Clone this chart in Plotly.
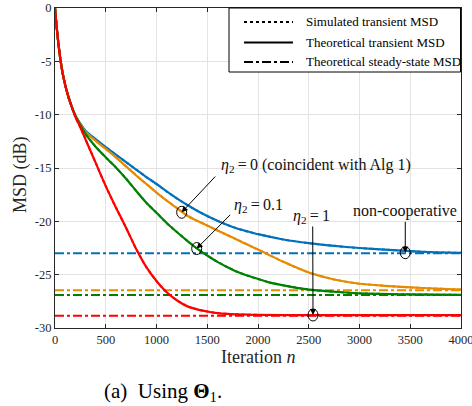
import plotly.graph_objects as go

# ---------------- data ----------------
n_noncoop = [0, 10, 25, 50, 75, 100, 125, 150, 175, 200, 250, 300, 400, 500, 600, 700, 800, 900, 1000, 1100, 1200, 1300, 1400, 1500, 1600, 1700, 1800, 1900, 2000, 2250, 2500, 2750, 3000, 3250, 3500, 3750, 4000]
msd_noncoop = [0, -1.1, -2.6, -4.6, -6.1, -7.2, -8.1, -8.85, -9.5, -10.05, -10.85, -11.5, -12.3, -13.05, -13.75, -14.45, -15.15, -15.85, -16.5, -17.2, -17.85, -18.45, -19.0, -19.5, -19.95, -20.35, -20.7, -20.95, -21.2, -21.7, -22.05, -22.3, -22.5, -22.65, -22.8, -22.9, -22.95]

n_eta0 = [0, 10, 25, 50, 75, 100, 125, 150, 175, 200, 250, 300, 400, 500, 600, 700, 800, 900, 1000, 1100, 1200, 1300, 1400, 1500, 1600, 1700, 1800, 1900, 2000, 2100, 2250, 2500, 2750, 3000, 3250, 3500, 3750, 4000]
msd_eta0 = [0, -1.1, -2.6, -4.6, -6.1, -7.2, -8.1, -8.85, -9.5, -10.05, -10.9, -11.6, -12.45, -13.2, -14.0, -14.85, -15.7, -16.5, -17.3, -18.05, -18.75, -19.45, -19.95, -20.4, -20.85, -21.3, -21.75, -22.2, -22.65, -23.1, -23.8, -24.8, -25.45, -25.85, -26.05, -26.2, -26.3, -26.4]

n_eta01 = [0, 10, 25, 50, 75, 100, 125, 150, 175, 200, 250, 300, 400, 500, 600, 700, 800, 900, 1000, 1100, 1200, 1300, 1400, 1500, 1600, 1700, 1800, 1900, 2000, 2100, 2250, 2500, 2750, 3000, 3500, 4000]
msd_eta01 = [0, -1.1, -2.6, -4.6, -6.1, -7.2, -8.1, -8.85, -9.5, -10.1, -11.0, -11.8, -13.0, -14.0, -14.95, -16.0, -17.15, -18.25, -19.2, -20.15, -21.0, -21.8, -22.55, -23.2, -23.8, -24.3, -24.75, -25.1, -25.4, -25.7, -26.0, -26.4, -26.6, -26.75, -26.85, -26.9]

n_eta1 = [0, 10, 25, 50, 75, 100, 125, 150, 175, 200, 250, 300, 400, 500, 600, 700, 800, 900, 1000, 1100, 1200, 1300, 1400, 1500, 1600, 1700, 1800, 1900, 2000, 2500, 3000, 3500, 4000]
msd_eta1 = [0, -1.1, -2.6, -4.6, -6.1, -7.2, -8.1, -8.85, -9.55, -10.2, -11.2, -12.3, -14.5, -16.7, -18.7, -20.6, -22.6, -24.3, -25.6, -26.65, -27.4, -27.95, -28.25, -28.45, -28.6, -28.68, -28.72, -28.75, -28.77, -28.8, -28.8, -28.8, -28.8]

steady_noncoop = -23.0
steady_eta0 = -26.45
steady_eta01 = -26.9
steady_eta1 = -28.84

x_ticks = [0, 500, 1000, 1500, 2000, 2500, 3000, 3500, 4000]
y_ticks = [0, -5, -10, -15, -20, -25, -30]

legend_labels = ["Simulated transient MSD", "Theoretical transient MSD", "Theoretical steady-state MSD"]
legend_dashes = ["dot", "solid", "dashdot"]

# annotation: (label, label_n, label_db, tail_n, tail_db, head_n, head_db)
EQ = "\u2009=\u2009"
labels = [
    ("<i>η</i><sub>2</sub>" + EQ + "0 (coincident with Alg 1)", 2576, -14.8, 1593, -15.66, 1248, -19.15),
    ("<i>η</i><sub>2</sub>" + EQ + "0.1", 2000, -18.47, 1741, -19.25, 1396, -22.55),
    ("<i>η</i><sub>2</sub>" + EQ + "1", 2529, -19.5, 2539, -20.34, 2542, -28.78),
    ("non-cooperative", 3448, -19.0, 3451, -19.9, 3451, -22.94),
]

# ---------------- figure ----------------
BLUE = "#0072BD"
ORANGE = "#E68A00"
GREEN = "#008000"
RED = "#FF0000"
SERIF = "Liberation Serif, Times New Roman, serif"

W, H = 472, 406
L, R, T, B = 55, 11, 8, 78
PW, PH = W - L - R, H - T - B


def px(xp):
    return (xp - L) / PW


def py(yp):
    return (H - B - yp) / PH


series = [
    (n_noncoop, msd_noncoop, steady_noncoop, BLUE),
    (n_eta0, msd_eta0, steady_eta0, ORANGE),
    (n_eta01, msd_eta01, steady_eta01, GREEN),
    (n_eta1, msd_eta1, steady_eta1, RED),
]

fig = go.Figure()

for xs, ys, ss, col in series:
    fig.add_trace(go.Scatter(x=[0, 4000], y=[ss, ss], mode="lines",
                             line=dict(color=col, width=2, dash="dashdot"),
                             showlegend=False, hoverinfo="skip"))
for xs, ys, ss, col in series:
    fig.add_trace(go.Scatter(x=xs, y=ys, mode="lines",
                             line=dict(color=col, width=2.2, shape="spline", smoothing=0.7),
                             showlegend=False, hoverinfo="skip"))
    fig.add_trace(go.Scatter(x=xs, y=ys, mode="lines",
                             line=dict(color=col, width=2, dash="dot", shape="spline", smoothing=0.7),
                             showlegend=False, hoverinfo="skip"))

annotations = []
shapes = []
for text, lx, ly, tx, ty, hx, hy in labels:
    annotations.append(dict(x=lx, y=ly, xref="x", yref="y", text=text, showarrow=False,
                            font=dict(family=SERIF, size=16, color="#111"),
                            xanchor="center", yanchor="middle"))
    annotations.append(dict(x=hx, y=hy, xref="x", yref="y", ax=tx, ay=ty,
                            axref="x", ayref="y", text="", showarrow=True,
                            arrowhead=2, arrowsize=1.2, arrowwidth=1, arrowcolor="black"))
    shapes.append(dict(type="circle", xref="x", yref="y", xsizemode="pixel", ysizemode="pixel",
                       xanchor=hx, yanchor=hy, x0=-5, x1=5, y0=-6, y1=6,
                       line=dict(color="black", width=1)))

# legend (drawn manually, MATLAB style)
shapes.append(dict(type="rect", xref="paper", yref="paper",
                   x0=px(229), x1=px(460.5), y0=py(72), y1=py(8),
                   fillcolor="white", line=dict(color="black", width=1), layer="above"))
for i, (lab, dsh) in enumerate(zip(legend_labels, legend_dashes)):
    yy = [22, 42.5, 62][i]
    shapes.append(dict(type="line", xref="paper", yref="paper",
                       x0=px(244), x1=px(293), y0=py(yy), y1=py(yy),
                       line=dict(color="black", width=1.8, dash=dsh), layer="above"))
    annotations.append(dict(x=px(304), y=py(yy), xref="paper", yref="paper", text=lab,
                            showarrow=False, xanchor="left", yanchor="middle",
                            font=dict(family=SERIF, size=13, color="black")))

# caption
annotations.append(dict(x=px(163), y=py(392), xref="paper", yref="paper",
                        text="(a)\u2002Using <b>Θ</b><sub>1</sub>.", showarrow=False,
                        font=dict(family=SERIF, size=21, color="black"),
                        xanchor="center", yanchor="middle"))
# axis titles
annotations.append(dict(x=px(258), y=py(357), xref="paper", yref="paper",
                        text="Iteration <i>n</i>", showarrow=False,
                        font=dict(family=SERIF, size=18, color="#262626"),
                        xanchor="center", yanchor="middle"))
annotations.append(dict(x=px(20), y=py(175), xref="paper", yref="paper",
                        text="MSD (dB)", showarrow=False, textangle=-90,
                        font=dict(family=SERIF, size=18, color="#262626"),
                        xanchor="center", yanchor="middle"))

axis_common = dict(showgrid=True, gridcolor="#E3E3E3", gridwidth=1,
                   showline=True, linecolor="#262626", linewidth=1.2, mirror="ticks",
                   ticks="inside", ticklen=4, tickcolor="#262626", zeroline=False,
                   automargin=False, ticklabeloverflow="allow",
                   tickfont=dict(family=SERIF, size=12.5, color="#262626"))

fig.update_layout(
    width=W, height=H,
    margin=dict(l=L, r=R, t=T, b=B, autoexpand=False),
    plot_bgcolor="white", paper_bgcolor="white",
    xaxis=dict(range=[0, 4000], tickvals=x_ticks, ticktext=[str(v) for v in x_ticks], **axis_common),
    yaxis=dict(range=[-30, 0], tickvals=y_ticks, ticktext=[str(v) for v in y_ticks], **axis_common),
    annotations=annotations,
    shapes=shapes,
    showlegend=False,
)

fig.write_html("out.html", config={"displayModeBar": False},
               post_script="document.body.style.margin='0px';document.body.style.overflow='hidden';")
